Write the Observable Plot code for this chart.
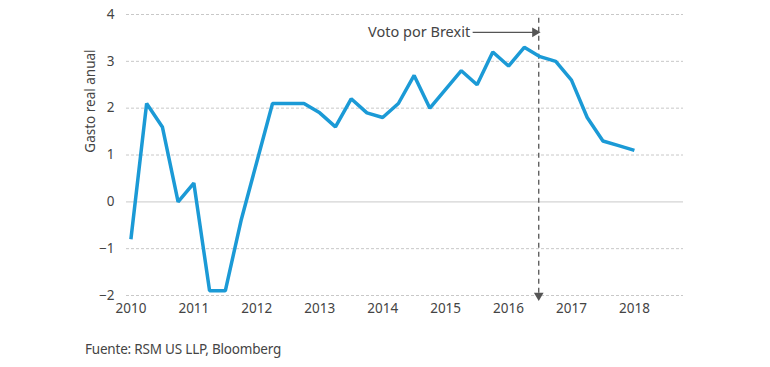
<!DOCTYPE html>
<html>
<head>
<meta charset="utf-8">
<script src="https://cdn.jsdelivr.net/npm/d3@7"></script>
<script src="https://cdn.jsdelivr.net/npm/@observablehq/plot@0.6"></script>
<style>
  body { margin: 0; background: #fff; font-family: "Noto Sans", sans-serif; }
  #caption { font-size: 13.5px; color: #444; margin: 10px 0 0 85px; letter-spacing: -0.2px; }
</style>
</head>
<body>
<div id="chart"></div>
<div id="caption">Fuente: RSM US LLP, Bloomberg</div>
<script>
const quarters = [2010, 2010.25, 2010.5, 2010.75, 2011, 2011.25, 2011.5, 2011.75,
  2012, 2012.25, 2012.5, 2012.75, 2013, 2013.25, 2013.5, 2013.75,
  2014, 2014.25, 2014.5, 2014.75, 2015, 2015.25, 2015.5, 2015.75,
  2016, 2016.25, 2016.5, 2016.75, 2017, 2017.25, 2017.5, 2017.75, 2018];
const spending = [-0.8, 2.1, 1.6, 0.0, 0.4, -1.9, -1.9, -0.4,
  0.85, 2.1, 2.1, 2.1, 1.9, 1.6, 2.2, 1.9,
  1.8, 2.1, 2.7, 2.0, 2.4, 2.8, 2.5, 3.2,
  2.9, 3.3, 3.1, 3.0, 2.6, 1.8, 1.3, 1.2, 1.1];
const yearTicks = [2010, 2011, 2012, 2013, 2014, 2015, 2016, 2017, 2018];
const yTicks = [-2, -1, 0, 1, 2, 3, 4];
const brexitDate = 2016.48;
const brexitLabel = "Voto por Brexit";
const yLabel = "Gasto real anual";

const data = quarters.map((q, i) => ({q, v: spending[i]}));

const plot = Plot.plot({
  width: 770,
  height: 330,
  marginLeft: 126,
  marginRight: 87,
  marginTop: 14,
  marginBottom: 35,
  style: {fontFamily: "Noto Sans, sans-serif", fontSize: "13.5px", color: "#444", background: "#fff"},
  x: {domain: [2009.93, 2018.78], ticks: yearTicks, tickFormat: d => String(d), tickSize: 0, tickPadding: 8, label: null},
  y: {domain: [-2, 4], ticks: yTicks, tickFormat: d => (d < 0 ? "\u2212" + Math.abs(d) : String(d)), tickSize: 0, tickPadding: 12, label: null},
  marks: [
    Plot.ruleY(yTicks.filter(d => d !== 0), {stroke: "#c8c8c8", strokeDasharray: "3,2", strokeWidth: 1}),
    Plot.ruleY([0], {stroke: "#d4d4d4", strokeWidth: 1.2}),
    Plot.text([yLabel], {frameAnchor: "left", dx: -36, y: 1.05, rotate: -90, text: d => d, fill: "#444", fontSize: 13.5}),
    Plot.ruleX([brexitDate], {y1: 3.92, y2: -2.05, stroke: "#555", strokeDasharray: "5,4", strokeWidth: 1.3}),
    Plot.dot([brexitDate], {x: d => d, y: -2.0, symbol: "triangle", rotate: 180, r: 3.6, fill: "#555", stroke: "none"}),
    Plot.line(data, {x: "q", y: "v", stroke: "#1b9ad6", strokeWidth: 3.5, strokeLinejoin: "miter", strokeLinecap: "butt"}),
    Plot.link([brexitDate], {x1: 2015.43, x2: d => d - 0.09, y1: 3.62, y2: 3.62, stroke: "#555", strokeWidth: 1.2}),
    Plot.dot([brexitDate], {x: d => d - 0.06, y: 3.62, symbol: "triangle", rotate: 90, r: 3.6, fill: "#555", stroke: "none"}),
    Plot.text([brexitLabel], {x: 2015.39, y: 3.62, text: d => d, textAnchor: "end", fill: "#444", fontSize: 14.5})
  ]
});
document.getElementById("chart").appendChild(plot);
</script>
</body>
</html>
